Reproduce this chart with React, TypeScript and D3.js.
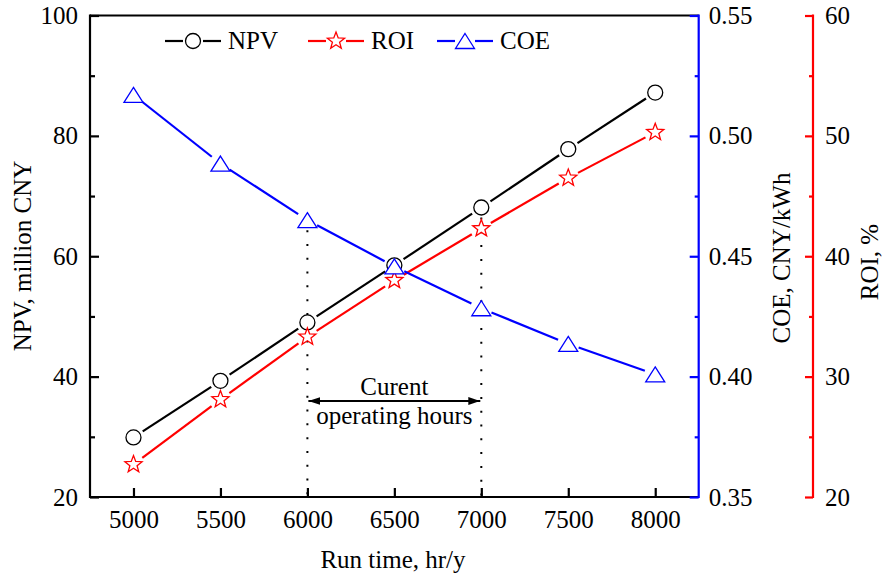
import React, { useEffect, useRef } from "react";
import * as d3 from "d3";

// run time, hr/y
const runTime = [5000, 5500, 6000, 6500, 7000, 7500, 8000];
// NPV, million CNY
const npv = [29.9, 39.3, 49.0, 58.5, 68.1, 77.8, 87.2];
// ROI, %
const roi = [22.7, 28.1, 33.3, 38.0, 42.3, 46.5, 50.3];
// COE, CNY/kWh
const coe = [0.517, 0.4885, 0.465, 0.4458, 0.4284, 0.4136, 0.4009];

const xTicks = [5000, 5500, 6000, 6500, 7000, 7500, 8000];
const npvTicks = [20, 40, 60, 80, 100];
const npvMinor = [30, 50, 70, 90];
const coeTicks = [0.35, 0.4, 0.45, 0.5, 0.55];
const coeMinor = [0.375, 0.425, 0.475, 0.525];
const roiTicks = [20, 30, 40, 50, 60];
const roiMinor = [25, 35, 45, 55];
const currentHours = [6000, 7000];

const FONT = "'Liberation Serif', 'Times New Roman', serif";

const starPath = (R: number) => {
  const r = R * 0.42;
  const pts: [number, number][] = [];
  for (let i = 0; i < 10; i++) {
    const a = -Math.PI / 2 + (i * Math.PI) / 5;
    const rr = i % 2 === 0 ? R : r;
    pts.push([rr * Math.cos(a), rr * Math.sin(a)]);
  }
  return "M" + pts.map((p) => p.join(",")).join("L") + "Z";
};
const trianglePath = "M0,-7.5L9.5,7.5L-9.5,7.5Z";

const Chart = () => {
  const ref = useRef<SVGSVGElement>(null);

  useEffect(() => {
    const width = 885;
    const height = 583;
    const left = 90;
    const right = 698.7;
    const top = 15.5;
    const bottom = 497;
    const roiX = 813;

    const x = d3.scaleLinear([4750, 8250], [left, right]);
    const yNpv = d3.scaleLinear([20, 100], [bottom, top]);
    const yCoe = d3.scaleLinear([0.35, 0.55], [bottom, top]);
    const yRoi = d3.scaleLinear([20, 60], [bottom, top]);

    const svg = d3.select(ref.current);
    svg.selectAll("*").remove();
    svg.attr("width", width).attr("height", height).style("font-family", FONT);

    // dotted guides for current operating hours
    currentHours.forEach((h) => {
      const i = runTime.indexOf(h);
      const yTop = Math.min(yNpv(npv[i]), yCoe(coe[i]), yRoi(roi[i]));
      svg
        .append("line")
        .attr("x1", x(h))
        .attr("x2", x(h))
        .attr("y1", yTop + 10)
        .attr("y2", bottom)
        .attr("stroke", "#000")
        .attr("stroke-width", 2)
        .attr("stroke-dasharray", "2,11.8");
    });

    // series
    const series = [
      { name: "NPV", values: npv, y: yNpv, color: "#000", marker: "circle" },
      { name: "ROI", values: roi, y: yRoi, color: "#ff0000", marker: "star" },
      { name: "COE", values: coe, y: yCoe, color: "#0000ff", marker: "triangle" },
    ];
    const gap = 11;

    const drawMarker = (g: any, kind: string, color: string, cx: number, cy: number) => {
      if (kind === "circle") {
        g.append("circle")
          .attr("cx", cx)
          .attr("cy", cy)
          .attr("r", 7.5)
          .attr("fill", "#fff")
          .attr("stroke", color)
          .attr("stroke-width", 1.3);
      } else {
        g.append("path")
          .attr("d", kind === "star" ? starPath(9) : trianglePath)
          .attr("transform", `translate(${cx},${cy})`)
          .attr("fill", "#fff")
          .attr("stroke", color)
          .attr("stroke-width", 1.3);
      }
    };

    series.forEach((s) => {
      const pts = runTime.map((t, i) => [x(t), s.y(s.values[i])]);
      const g = svg.append("g");
      for (let i = 0; i < pts.length - 1; i++) {
        const [x0, y0] = pts[i];
        const [x1, y1] = pts[i + 1];
        const len = Math.hypot(x1 - x0, y1 - y0);
        const ux = (x1 - x0) / len;
        const uy = (y1 - y0) / len;
        g.append("line")
          .attr("x1", x0 + ux * gap)
          .attr("y1", y0 + uy * gap)
          .attr("x2", x1 - ux * gap)
          .attr("y2", y1 - uy * gap)
          .attr("stroke", s.color)
          .attr("stroke-width", 2.2);
      }
      pts.forEach(([cx, cy]) => drawMarker(g, s.marker, s.color, cx, cy));
    });

    // frame
    const frame = svg.append("g").attr("stroke-width", 2.2).attr("fill", "none");
    frame.append("line").attr("x1", left).attr("x2", right).attr("y1", top).attr("y2", top).attr("stroke", "#000");
    frame.append("line").attr("x1", left).attr("x2", right).attr("y1", bottom).attr("y2", bottom).attr("stroke", "#000");
    frame.append("line").attr("x1", left).attr("x2", left).attr("y1", top - 1.1).attr("y2", bottom + 1.1).attr("stroke", "#000");
    frame.append("line").attr("x1", right).attr("x2", right).attr("y1", top - 1.1).attr("y2", bottom + 1.1).attr("stroke", "#0000ff");
    frame.append("line").attr("x1", roiX).attr("x2", roiX).attr("y1", top - 1.1).attr("y2", bottom + 1.1).attr("stroke", "#ff0000");

    const styleAxis = (g: any, color: string) => {
      g.attr("font-family", null).attr("font-size", null);
      g.select(".domain").remove();
      g.selectAll(".tick line").attr("stroke", color).attr("stroke-width", 2.2);
      g.selectAll(".tick text")
        .attr("fill", "#000")
        .style("font-size", "25px")
        .style("font-family", FONT);
    };

    // left axis
    svg.append("g").attr("transform", `translate(${left},0)`)
      .call(d3.axisLeft(yNpv).tickValues(npvTicks).tickSize(-9).tickPadding(12).tickFormat(d3.format("d")))
      .call((g) => styleAxis(g, "#000"));
    svg.append("g").attr("transform", `translate(${left},0)`)
      .call(d3.axisLeft(yNpv).tickValues(npvMinor).tickSize(-5).tickFormat(() => ""))
      .call((g) => styleAxis(g, "#000"));

    // bottom axis
    svg.append("g").attr("transform", `translate(0,${bottom})`)
      .call(d3.axisBottom(x).tickValues(xTicks).tickSize(-9).tickPadding(13).tickFormat(d3.format("d")))
      .call((g) => styleAxis(g, "#000"));

    // COE axis
    svg.append("g").attr("transform", `translate(${right},0)`)
      .call(d3.axisRight(yCoe).tickValues(coeTicks).tickSize(-9).tickPadding(10).tickFormat(d3.format(".2f")))
      .call((g) => styleAxis(g, "#0000ff"));
    svg.append("g").attr("transform", `translate(${right},0)`)
      .call(d3.axisRight(yCoe).tickValues(coeMinor).tickSize(-4).tickFormat(() => ""))
      .call((g) => styleAxis(g, "#0000ff"));

    // ROI axis
    svg.append("g").attr("transform", `translate(${roiX},0)`)
      .call(d3.axisRight(yRoi).tickValues(roiTicks).tickSize(-8).tickPadding(12).tickFormat(d3.format("d")))
      .call((g) => styleAxis(g, "#ff0000"));
    svg.append("g").attr("transform", `translate(${roiX},0)`)
      .call(d3.axisRight(yRoi).tickValues(roiMinor).tickSize(-4).tickFormat(() => ""))
      .call((g) => styleAxis(g, "#ff0000"));

    // axis titles
    const title = (tx: number, ty: number, rot: number, text: string) =>
      svg.append("text")
        .attr("transform", `translate(${tx},${ty}) rotate(${rot})`)
        .attr("text-anchor", "middle")
        .attr("font-size", 25)
        .attr("fill", "#000")
        .text(text);
    title(393, 568, 0, "Run time, hr/y");
    title(31, 256, -90, "NPV, million CNY");
    title(790, 258, -90, "COE, CNY/kWh");
    title(878, 262, -90, "ROI, %");

    // annotation
    const defs = svg.append("defs");
    defs.append("marker")
      .attr("id", "arrowHead")
      .attr("viewBox", "0 0 12 8")
      .attr("refX", 12)
      .attr("refY", 4)
      .attr("markerWidth", 12)
      .attr("markerHeight", 8)
      .attr("markerUnits", "userSpaceOnUse")
      .attr("orient", "auto-start-reverse")
      .append("path")
      .attr("d", "M0,0L12,4L0,8Z")
      .attr("fill", "#000");
    const arrowY = 401;
    svg.append("line")
      .attr("x1", x(currentHours[0]) + 1)
      .attr("x2", x(currentHours[1]) - 1)
      .attr("y1", arrowY)
      .attr("y2", arrowY)
      .attr("stroke", "#000")
      .attr("stroke-width", 2)
      .attr("marker-start", "url(#arrowHead)")
      .attr("marker-end", "url(#arrowHead)");
    const midX = (x(currentHours[0]) + x(currentHours[1])) / 2;
    svg.append("text").attr("x", midX).attr("y", 395).attr("text-anchor", "middle").attr("font-size", 25).text("Curent");
    svg.append("text").attr("x", midX).attr("y", 424).attr("text-anchor", "middle").attr("font-size", 25).text("operating hours");

    // legend
    const legendItems = [
      { s: series[0], x0: 165 },
      { s: series[1], x0: 308 },
      { s: series[2], x0: 437 },
    ];
    const ly = 41;
    legendItems.forEach(({ s, x0 }) => {
      const g = svg.append("g");
      const cx = x0 + 28;
      g.append("line").attr("x1", x0).attr("x2", cx - 10).attr("y1", ly).attr("y2", ly).attr("stroke", s.color).attr("stroke-width", 2.2);
      g.append("line").attr("x1", cx + 10).attr("x2", x0 + 56).attr("y1", ly).attr("y2", ly).attr("stroke", s.color).attr("stroke-width", 2.2);
      drawMarker(g, s.marker, s.color, cx, ly);
      g.append("text").attr("x", x0 + 63).attr("y", 49).attr("font-size", 25).attr("fill", "#000").text(s.name);
    });
  }, []);

  return <svg ref={ref} style={{ position: "absolute", left: 0, top: 0 }}></svg>;
};

export default function App() {
  return <Chart />;
}
